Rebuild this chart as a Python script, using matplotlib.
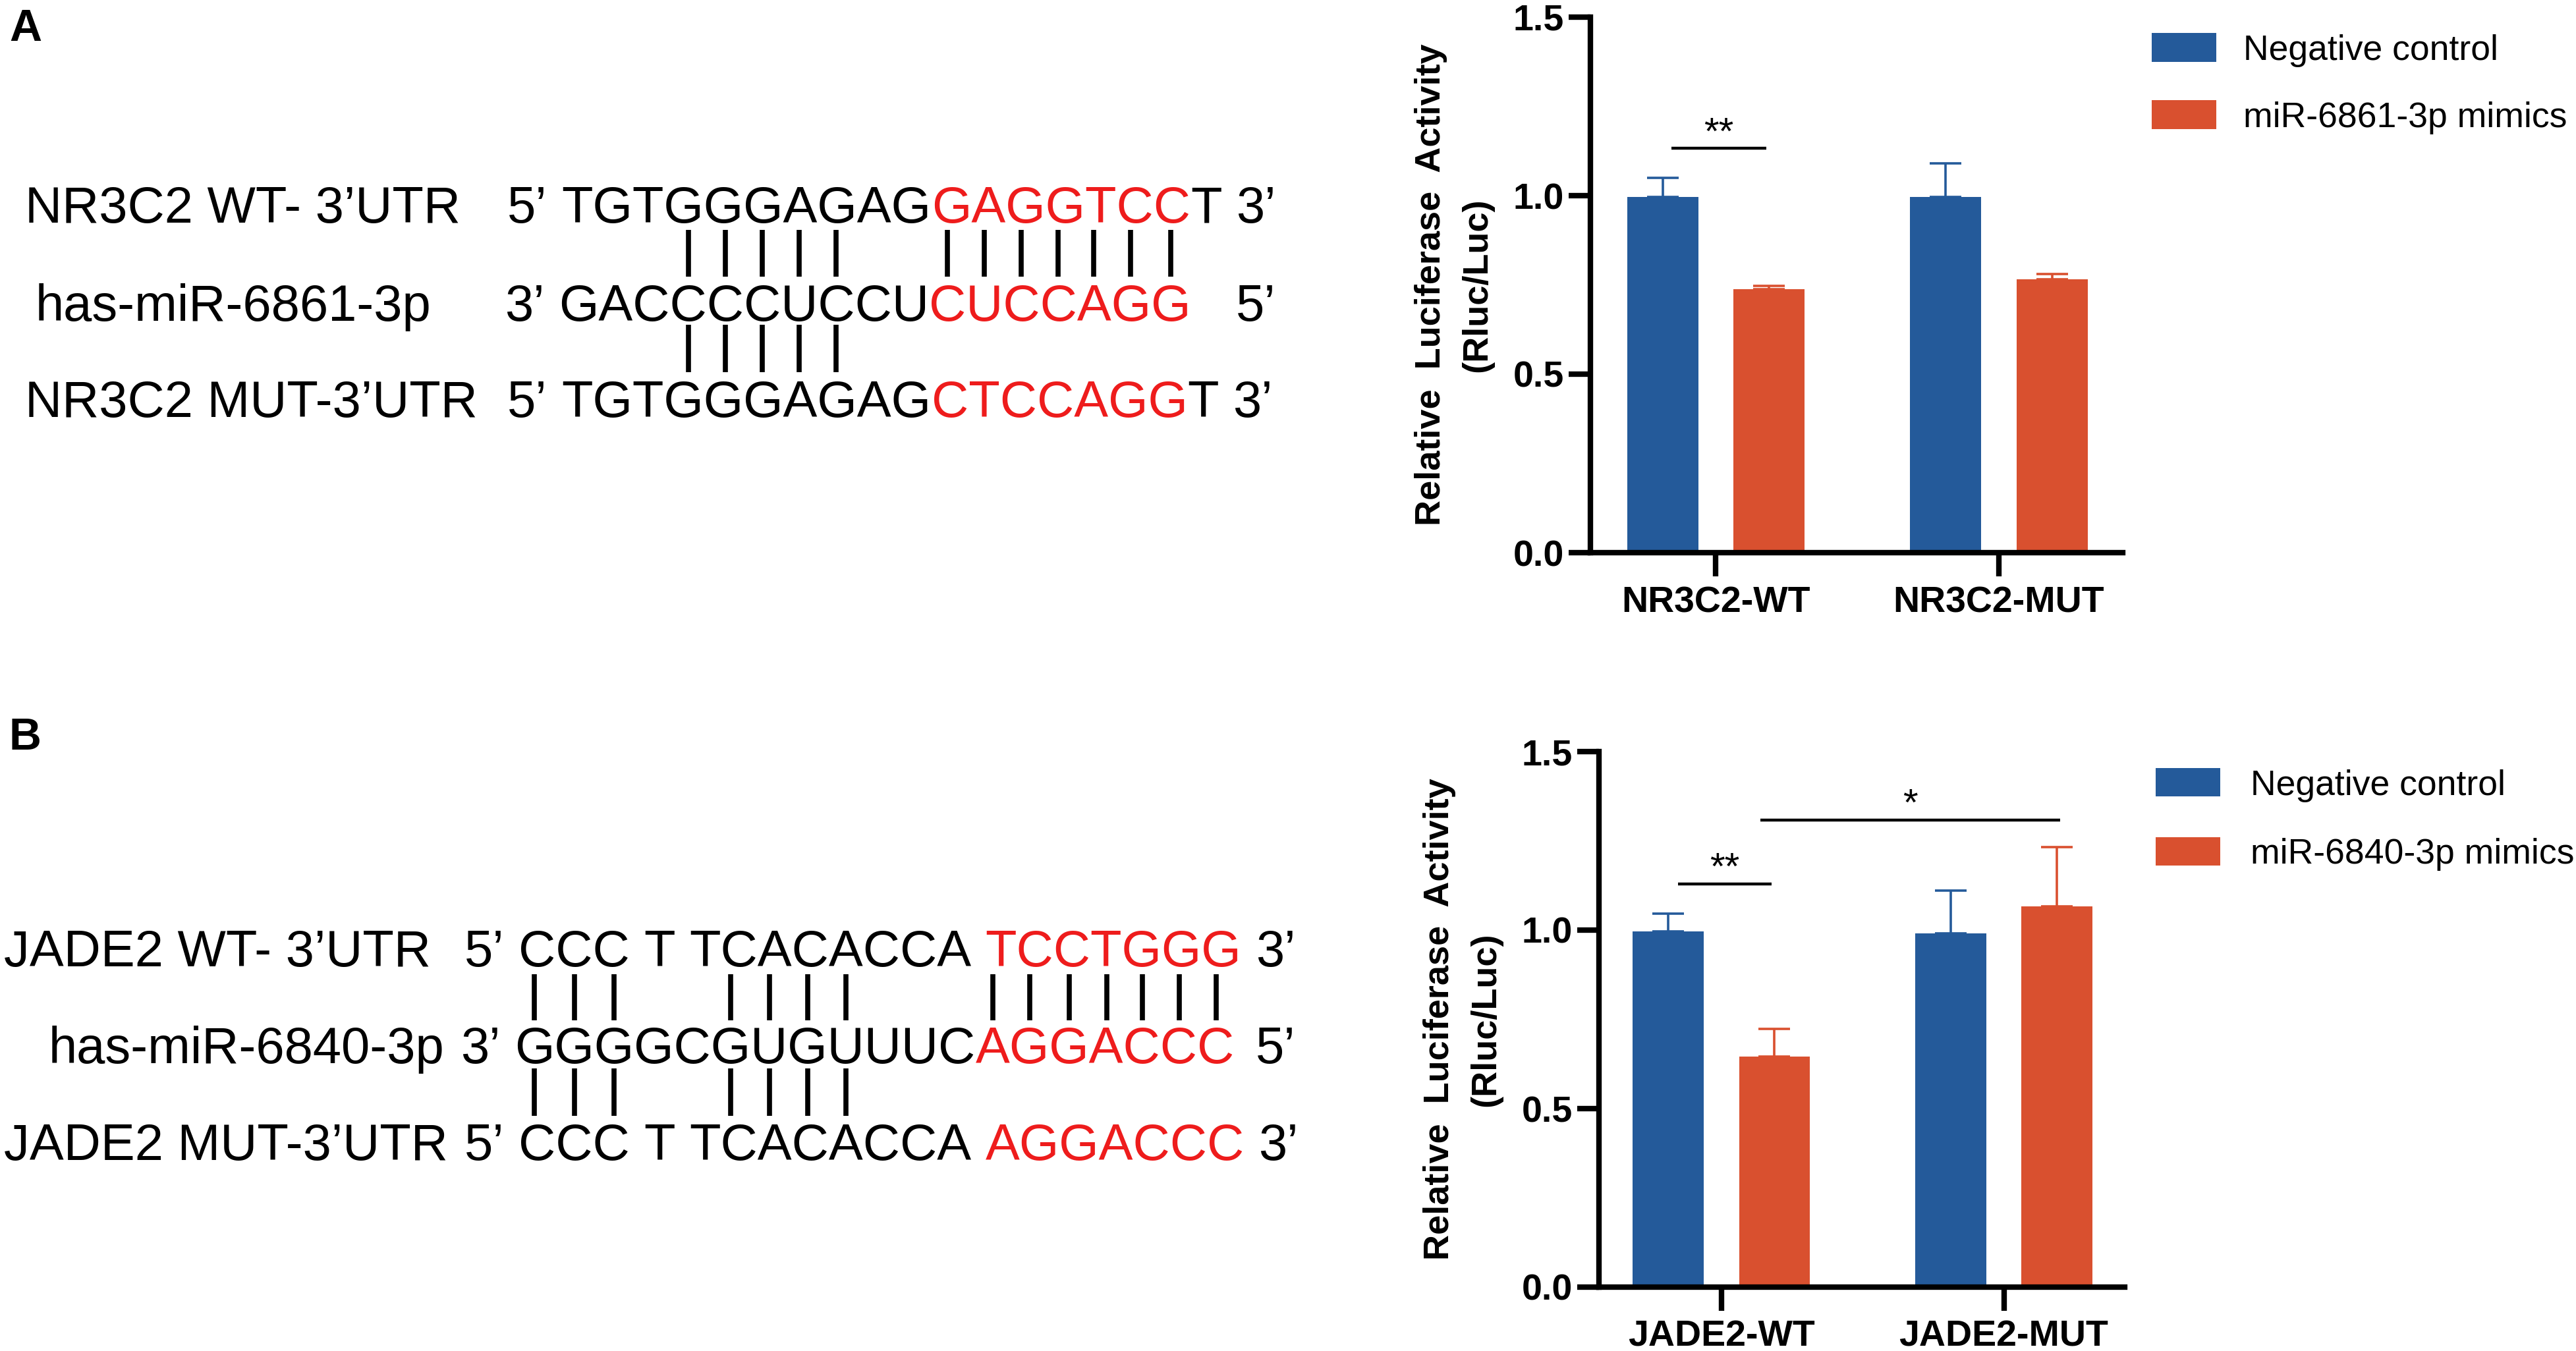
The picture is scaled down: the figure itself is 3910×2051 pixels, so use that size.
import matplotlib
matplotlib.use("Agg")
import matplotlib.pyplot as plt
from matplotlib import font_manager
from matplotlib.lines import Line2D
from matplotlib.patches import Rectangle
from matplotlib.font_manager import FontProperties, findfont
from matplotlib.ft2font import FT2Font
try:
    from matplotlib.ft2font import LoadFlags
    NOHINT = LoadFlags.NO_HINTING
except ImportError:
    from matplotlib.ft2font import LOAD_NO_HINTING as NOHINT

# ---------------- colours ----------------
RED = "#EE1C1C"
BLACK = "#000000"
BLUE = "#245A9A"
ORANGE = "#D9502F"

# ---------------- panel A sequences ----------------
A_labels = ["NR3C2 WT- 3\u2019UTR", "has-miR-6861-3p", "NR3C2 MUT-3\u2019UTR"]
A_wt_seq = [("5\u2019 TGTGGGAGAG", BLACK), ("GAGGTCC", RED), ("T 3\u2019", BLACK)]
A_mir_seq = [("3\u2019 GACCCCUCCU", BLACK), ("CUCCAGG", RED)]
A_mir_end = "5\u2019"
A_mut_seq = [("5\u2019 TGTGGGAGAG", BLACK), ("CTCCAGG", RED), ("T 3\u2019", BLACK)]
A_pairs_wt = [3, 4, 5, 6, 7, 10, 11, 12, 13, 14, 15, 16]   # miRNA nucleotide indices
A_pairs_mut = [3, 4, 5, 6, 7]

# ---------------- panel B sequences ----------------
B_labels = ["JADE2 WT- 3\u2019UTR", "has-miR-6840-3p", "JADE2 MUT-3\u2019UTR"]
B_wt_seq = [("5\u2019 CCC T TCACACCA ", BLACK), ("TCCTGGG", RED), (" 3\u2019", BLACK)]
B_mir_seq = [("3\u2019 GGGGCGUGUUUC", BLACK), ("AGGACCC", RED)]
B_mir_end = "5\u2019"
B_mut_seq = [("5\u2019 CCC T TCACACCA ", BLACK), ("AGGACCC", RED), (" 3\u2019", BLACK)]
B_pairs_wt = [0, 1, 2, 5, 6, 7, 8, 12, 13, 14, 15, 16, 17, 18]
B_pairs_mut = [0, 1, 2, 5, 6, 7, 8]

# ---------------- bar chart data ----------------
A_groups = ["NR3C2-WT", "NR3C2-MUT"]
A_nc = [0.996, 0.996]
A_nc_err = [0.054, 0.095]
A_mim = [0.738, 0.766]
A_mim_err = [0.010, 0.015]
A_legend = ["Negative control", "miR-6861-3p mimics"]
A_sig = [("**", -0.157, 0.178, 1.132)]

B_groups = ["JADE2-WT", "JADE2-MUT"]
B_nc = [0.997, 0.991]
B_nc_err = [0.049, 0.120]
B_mim = [0.645, 1.067]
B_mim_err = [0.078, 0.165]
B_legend = ["Negative control", "miR-6840-3p mimics"]
B_sig = [("**", -0.154, 0.177, 1.130), ("*", 0.137, 1.200, 1.309)]

yticks = [0.0, 0.5, 1.0, 1.5]
ytick_labels = ["0.0", "0.5", "1.0", "1.5"]

# ---------------- figure ----------------
W, H = 3910, 2051
DPI = 100
fig = plt.figure(figsize=(W / DPI, H / DPI), dpi=DPI)
fig.patch.set_facecolor("white")

FONT = "Liberation Sans"
SEQ_SIZE = 56
_names = {f.name for f in font_manager.fontManager.ttflist}
if "Liberation Sans Narrow" in _names:
    LABEL_FONT, LABEL_SIZE = "Liberation Sans Narrow", 67
else:
    LABEL_FONT, LABEL_SIZE = FONT, 56

_font = FT2Font(findfont(FontProperties(family=FONT)))
_font.set_size(SEQ_SIZE, DPI)


def advances(s):
    return [_font.load_char(ord(c), flags=NOHINT).linearHoriAdvance / 65536.0 for c in s]


def fx(x):
    return x / W


def fy(y):
    return 1 - y / H


def draw_row(x0, ybase, segments):
    """Draw coloured segments consecutively; return char centers (px) and end x."""
    x = x0
    centers = []
    for text, color in segments:
        adv = advances(text)
        run = ""
        run_x = x
        for c, a in zip(text, adv):
            if c == " ":
                if run:
                    fig.text(fx(run_x), fy(ybase), run, color=color, fontsize=SEQ_SIZE,
                             family=FONT, ha="left", va="baseline")
                run = ""
            else:
                if not run:
                    run_x = x
                run += c
            centers.append(x + a / 2)
            x += a
        if run:
            fig.text(fx(run_x), fy(ybase), run, color=color, fontsize=SEQ_SIZE,
                     family=FONT, ha="left", va="baseline")
    return centers, x


def pair_lines(xs, y1, y2):
    for x in xs:
        fig.add_artist(Line2D([fx(x), fx(x)], [fy(y1), fy(y2)], transform=fig.transFigure,
                              color="black", lw=5.5, solid_capstyle="butt"))


def sequence_panel(labels, label_x, seq_x, bases, wt, mir, mir_end, mut,
                   pairs_wt, pairs_mut, up_y, lo_y):
    for lab, lx, yb in zip(labels, label_x, bases):
        fig.text(fx(lx), fy(yb), lab, fontsize=LABEL_SIZE, family=LABEL_FONT,
                 ha="left", va="baseline")
    _, end1 = draw_row(seq_x[0], bases[0], wt)
    cmid, _ = draw_row(seq_x[1], bases[1], mir)
    wend = sum(advances(mir_end))
    draw_row(end1 - wend, bases[1], [(mir_end, BLACK)])
    draw_row(seq_x[2], bases[2], mut)
    nuc = cmid[3:]
    pair_lines([nuc[i] for i in pairs_wt], up_y[0], up_y[1])
    pair_lines([nuc[i] for i in pairs_mut], lo_y[0], lo_y[1])


sequence_panel(A_labels, [38, 54, 38], [770, 766, 770], [338, 487, 633],
               A_wt_seq, A_mir_seq, A_mir_end, A_mut_seq, A_pairs_wt, A_pairs_mut,
               (349, 420), (493, 565))
sequence_panel(B_labels, [6, 74, 6], [705, 699, 705], [1467, 1614, 1761],
               B_wt_seq, B_mir_seq, B_mir_end, B_mut_seq, B_pairs_wt, B_pairs_mut,
               (1479, 1549), (1622, 1694))

# panel letters
fig.text(fx(14), fy(62), "A", fontsize=49, fontweight="bold", family=FONT, ha="left", va="baseline")
fig.text(fx(14), fy(1138), "B", fontsize=49, fontweight="bold", family=FONT, ha="left", va="baseline")


# ---------------- bar charts ----------------
def bar_panel(left, right, top, bottom, xlim, groups, nc, nc_err, mim, mim_err,
              sig, legend, leg_x, leg_rects):
    ax = fig.add_axes([left / W, 1 - bottom / H, (right - left) / W, (bottom - top) / H])
    pos = list(range(len(groups)))
    off, wid = 0.188, 0.2515
    xb = [p - off for p in pos]
    xo = [p + off for p in pos]
    ax.bar(xb, nc, width=wid, color=BLUE, zorder=2)
    ax.bar(xo, mim, width=wid, color=ORANGE, zorder=2)
    ax.errorbar(xb, nc, yerr=[[0] * len(nc), nc_err], fmt="none", ecolor=BLUE,
                elinewidth=2.6, capsize=17, capthick=2.6, zorder=1)
    ax.errorbar(xo, mim, yerr=[[0] * len(mim), mim_err], fmt="none", ecolor=ORANGE,
                elinewidth=2.6, capsize=17, capthick=2.6, zorder=1)
    for s, x1, x2, yv in sig:
        ax.plot([x1, x2], [yv, yv], color="black", lw=3.2, solid_capstyle="butt", clip_on=False)
        ax.text((x1 + x2) / 2, yv + 0.012, s, ha="center", va="baseline", fontsize=42,
                family=FONT, clip_on=False)
    ax.set_xlim(*xlim)
    ax.set_ylim(0, 1.5)
    ax.set_yticks(yticks)
    ax.set_yticklabels(ytick_labels)
    ax.set_xticks(pos)
    ax.set_xticklabels(groups)
    for sp in ["top", "right"]:
        ax.spines[sp].set_visible(False)
    for sp in ["left", "bottom"]:
        ax.spines[sp].set_linewidth(6)
        ax.spines[sp].set_capstyle("projecting")
    ax.tick_params(axis="y", length=24, width=6, pad=5)
    ax.tick_params(axis="x", length=26, width=6, pad=10)
    for lab in ax.get_xticklabels() + ax.get_yticklabels():
        lab.set_fontsize(40)
        lab.set_fontweight("bold")
        lab.set_family(FONT)
    ax.patch.set_alpha(0)
    # y label, two lines
    ymid = (top + bottom) / 2
    fig.text(fx(left - 242), fy(ymid), "Relative  Luciferase  Activity", rotation=90,
             fontsize=39, fontweight="bold", family=FONT, ha="center", va="center")
    fig.text(fx(left - 172), fy(ymid), "(Rluc/Luc)", rotation=90,
             fontsize=39, fontweight="bold", family=FONT, ha="center", va="center")
    # legend
    for (y1, y2), col, txt in zip(leg_rects, [BLUE, ORANGE], legend):
        fig.add_artist(Rectangle((fx(leg_x[0]), fy(y2)), (leg_x[1] - leg_x[0]) / W,
                                 (y2 - y1) / H, transform=fig.transFigure,
                                 facecolor=col, edgecolor="none"))
        fig.text(fx(leg_x[2]), fy((y1 + y2) / 2 + 19), txt, fontsize=38.5, family=FONT,
                 ha="left", va="baseline")
    return ax


bar_panel(2414, 3222, 26, 839, (-0.4435, 1.4377), A_groups, A_nc, A_nc_err, A_mim,
          A_mim_err, A_sig, A_legend, (3266, 3364, 3405), [(50, 94), (152, 196)])
bar_panel(2427, 3225, 1141, 1954, (-0.4336, 1.428), B_groups, B_nc, B_nc_err, B_mim,
          B_mim_err, B_sig, B_legend, (3272, 3370, 3416), [(1166, 1209), (1271, 1314)])

fig.savefig("out.png", dpi=DPI, facecolor="white")
